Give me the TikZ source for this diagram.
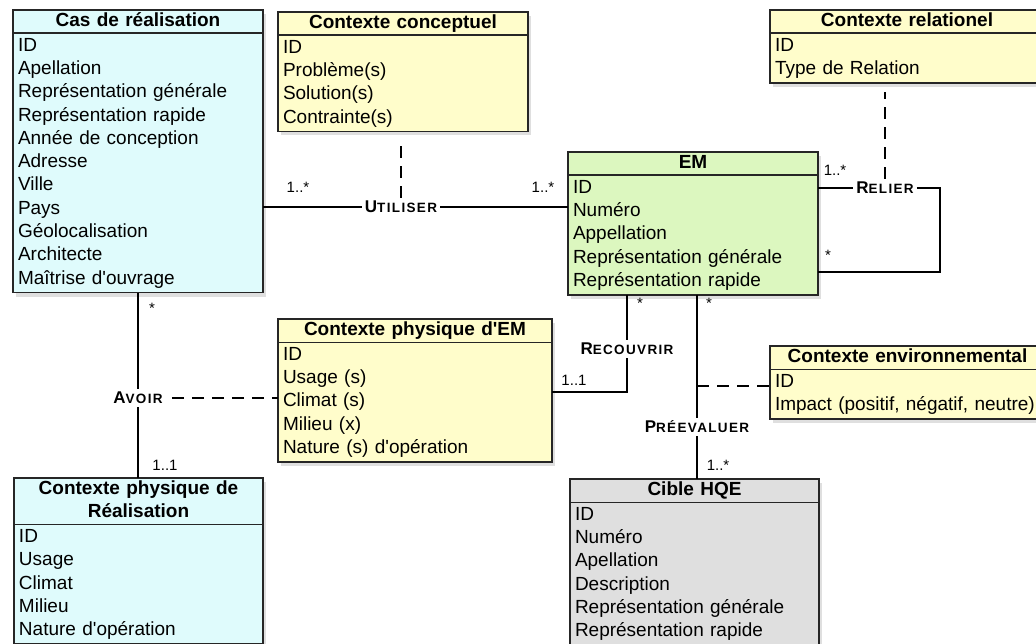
\documentclass[tikz,border=0pt]{standalone}
\usepackage{fontspec}
\setmainfont{Liberation Sans}[Ligatures=TeXOff]
\usepackage{tikz}
\usetikzlibrary{positioning}
\usetikzlibrary{shadows}

\definecolor{realcyan}{HTML}{DFFBFC}
\definecolor{ctxyellow}{HTML}{FFFDCB}
\definecolor{emgreen}{HTML}{DCF7BF}
\definecolor{hqegrey}{HTML}{DFDFDF}

\newcommand{\assoc}[2]{{\bfseries\addfontfeature{LetterSpace=10}\fontsize{17}{17}\selectfont #1\fontsize{13.5}{13.5}\selectfont #2}}

\begin{document}
\begin{tikzpicture}[x=1pt,y=-1pt,
    box/.style={draw=black!85,line width=1.6pt,outer sep=0pt,inner xsep=5pt,inner ysep=0pt,text width=#1,
        drop shadow={opacity=.25,shadow xshift=3pt,shadow yshift=-4pt},
        execute at begin node=\strut,execute at end node=\strut},
    head/.style={box=#1,align=center,font=\fontsize{19}{23.3}\selectfont\bfseries},
    body/.style={box=#1,align=left,inner ysep=1.5pt,font=\fontsize{19}{23.3}\selectfont},
    rel/.style={fill=white,inner sep=3pt},
    mult/.style={inner sep=1pt,font=\fontsize{15}{15}\selectfont},
    link/.style={line width=2.4pt},
    dlink/.style={line width=2.4pt,dash pattern=on 12pt off 8pt}]
\useasboundingbox (0,0) rectangle (1036,644);
\clip (0,0) rectangle (1036,644);

% classes
\node[head=240pt,fill=realcyan,anchor=north west] (cas-h) at (13,10) {Cas de réalisation};
\node[body=240pt,fill=realcyan,below=0pt of cas-h] (cas) {ID\\Apellation\\Représentation générale\\Représentation rapide\\Année de conception\\Adresse\\Ville\\Pays\\Géolocalisation\\Architecte\\Maîtrise d'ouvrage};

\node[head=240pt,fill=ctxyellow,anchor=north west] (concept-h) at (278,12) {Contexte conceptuel};
\node[body=240pt,fill=ctxyellow,below=0pt of concept-h] (concept) {ID\\Problème(s)\\Solution(s)\\Contrainte(s)};

\node[head=264pt,fill=ctxyellow,anchor=north west] (relat-h) at (770,10) {Contexte relationel};
\node[body=264pt,fill=ctxyellow,below=0pt of relat-h] (relat) {ID\\Type de Relation};

\node[head=240pt,fill=emgreen,anchor=north west] (em-h) at (568,152) {EM};
\node[body=240pt,fill=emgreen,below=0pt of em-h] (em) {ID\\Numéro\\Appellation\\Représentation générale\\Représentation rapide};

\node[head=264pt,fill=ctxyellow,anchor=north west] (physem-h) at (278,319) {Contexte physique d'EM};
\node[body=264pt,fill=ctxyellow,below=0pt of physem-h] (physem) {ID\\Usage (s)\\Climat (s)\\Milieu (x)\\Nature (s) d'opération};

\node[head=265pt,fill=ctxyellow,anchor=north west] (env-h) at (770,346) {Contexte environnemental};
\node[body=265pt,fill=ctxyellow,below=0pt of env-h] (env) {ID\\Impact (positif, négatif, neutre)};

\node[head=239pt,fill=realcyan,anchor=north west] (real-h) at (14,478) {Contexte physique de\\Réalisation};
\node[body=239pt,fill=realcyan,below=0pt of real-h] (real) {ID\\Usage\\Climat\\Milieu\\Nature d'opération};

\node[head=239pt,fill=hqegrey,anchor=north west] (cible-h) at (570,479) {Cible HQE};
\node[body=239pt,fill=hqegrey,below=0pt of cible-h] (cible) {ID\\Numéro\\Apellation\\Description\\Représentation générale\\Représentation rapide};

% associations
\node[rel] (util) at (401,207) {\assoc{U}{TILISER}};
\draw[link] (cas.east |- util) -- (util.west);
\draw[link] (util.east) -- (em.west |- util);
\draw[dlink,shorten >=7pt] (util.north) -- (util.north |- concept.south);

\node[rel] (relier) at (885,188) {\assoc{R}{ELIER}};
\coordinate (relturn) at (940,272);
\draw[link] (em.east |- relier) -- (relier.west);
\draw[link] (relier.east) -| (relturn) -- (em.east |- relturn);
\draw[dlink,shorten >=9pt] (relier.north) -- (relier.north |- relat.south);

\node[rel] (avoir) at (138,398) {\assoc{A}{VOIR}};
\draw[link] (cas.south -| avoir) -- (avoir.north);
\draw[link] (avoir.south) -- (avoir.south |- real-h.north);
\draw[dlink,shorten <=6pt] (avoir.east) -- (physem.west |- avoir);

\node[rel] (recouv) at (627,349) {\assoc{R}{ECOUVRIR}};
\coordinate (recturn) at (627,392);
\draw[link] (em.south -| recouv) -- (recouv.north);
\draw[link] (recouv.south) -- (recturn) -- (physem.east |- recturn);

\node[rel] (preev) at (697,427) {\assoc{P}{RÉEVALUER}};
\coordinate (envjoin) at (697,386);
\draw[link] (em.south -| preev) -- (preev.north);
\draw[link] (preev.south) -- (preev.south |- cible-h.north);
\draw[dlink] (envjoin) -- (env.west |- envjoin);

% multiplicities
\node[mult] (m-cas-util) at (298,187) {1..*};
\node[mult] (m-em-util) at (543,187) {1..*};
\node[mult] (m-em-rel1) at (835,170) {1..*};
\node[mult] (m-em-rel2) at (828,255) {*};
\node[mult] (m-cas-avoir) at (152,308) {*};
\node[mult] (m-real-avoir) at (165,465) {1..1};
\node[mult] (m-em-rec) at (640,303) {*};
\node[mult] (m-phys-rec) at (574,380) {1..1};
\node[mult] (m-em-pre) at (709,303) {*};
\node[mult] (m-cible-pre) at (718,465) {1..*};
\end{tikzpicture}
\end{document}
